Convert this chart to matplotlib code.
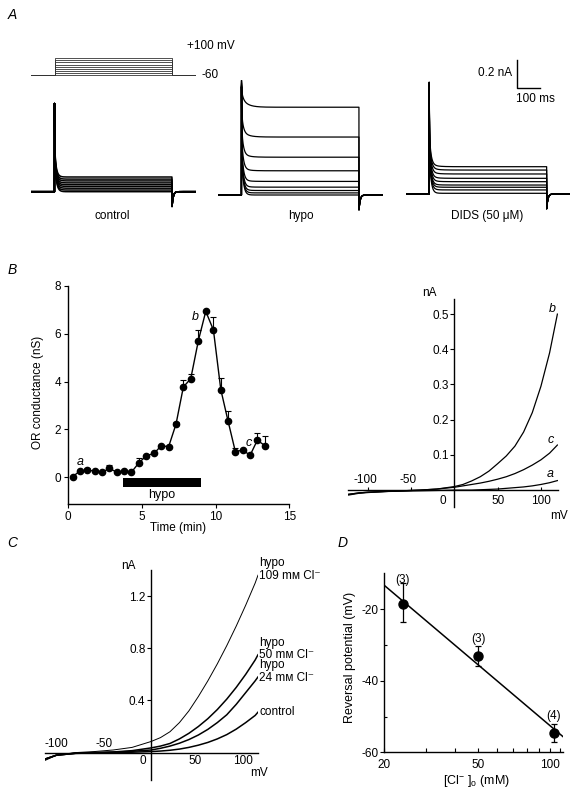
import numpy as np
import matplotlib
matplotlib.use('Agg')
import matplotlib.pyplot as plt
from matplotlib.ticker import FixedLocator, NullFormatter

plt.rcParams['font.family'] = ['Liberation Sans', 'DejaVu Sans']
plt.rcParams['font.size'] = 8.5
plt.rcParams['mathtext.fontset'] = 'custom'
plt.rcParams['mathtext.rm'] = 'Liberation Sans'
plt.rcParams['mathtext.default'] = 'regular'
plt.rcParams['axes.linewidth'] = 1.0

# ---------------- data ----------------
# Panel A: voltage protocol and steady current levels
step_mV = [-60, -40, -20, 0, 20, 40, 60, 80, 100]
control_levels_nA = [0.0, 0.012, 0.025, 0.038, 0.05, 0.063, 0.077, 0.09, 0.105]
hypo_levels_nA = [0.0, 0.015, 0.032, 0.056, 0.097, 0.173, 0.27, 0.414, 0.627]
dids_levels_nA = [0.005, 0.029, 0.048, 0.064, 0.088, 0.112, 0.143, 0.171, 0.195]
peak_nA = {'control': 0.63, 'hypo': 0.77, 'DIDS': 0.78}
tail_nA = -0.105
trace_names = ['control', 'hypo', 'DIDS (50 \u03bcM)']

# Panel B left: conductance time course
time_min = [0.30, 0.79, 1.29, 1.79, 2.31, 2.78, 3.31, 3.78, 4.28, 4.80, 5.30, 5.82, 6.31,
            6.81, 7.31, 7.81, 8.31, 8.83, 9.33, 9.85, 10.35, 10.84, 11.34, 11.84, 12.34,
            12.83, 13.35]
cond_nS = [0.03, 0.26, 0.30, 0.26, 0.21, 0.37, 0.21, 0.26, 0.21, 0.61, 0.90, 1.00, 1.32,
           1.28, 2.22, 3.78, 4.12, 5.72, 6.94, 6.16, 3.67, 2.36, 1.07, 1.14, 0.92,
           1.55, 1.32]
cond_sem = [0, 0.05, 0.08, 0, 0.05, 0.15, 0, 0.05, 0, 0.2, 0, 0, 0,
            0, 0.1, 0.3, 0.2, 0.45, 0, 0.55, 0.5, 0.4, 0.15, 0, 0,
            0.3, 0.4]
hypo_period_min = [3.73, 8.99]
point_labels = [('a', 0.79, 0.65), ('b', 8.6, 6.72), ('c', 12.27, 1.45)]

# Panel B right: I-V curves a, b, c
iv_mV = [-122, -110, -100, -80, -60, -40, -20, 0, 10, 20, 30, 40, 50, 60, 70, 80, 90, 100, 110, 119]
iv_a = [-0.014, -0.009, -0.007, -0.004, -0.003, -0.002, -0.001, 0.0, 0.0, 0.0, 0.001, 0.002,
        0.003, 0.005, 0.007, 0.009, 0.012, 0.016, 0.021, 0.027]
iv_b = [-0.012, -0.008, -0.006, -0.004, -0.002, 0.0, 0.003, 0.01, 0.016, 0.026, 0.038, 0.054,
        0.075, 0.097, 0.125, 0.165, 0.22, 0.295, 0.39, 0.50]
iv_c = [-0.012, -0.008, -0.006, -0.004, -0.002, 0.0, 0.003, 0.008, 0.012, 0.016, 0.02, 0.025,
        0.031, 0.038, 0.047, 0.058, 0.071, 0.086, 0.105, 0.128]

# Panel C: I-V curves at different [Cl-]o
ivc_mV = [-112, -100, -80, -60, -40, -20, 0, 10, 20, 30, 40, 50, 60, 70, 80, 90, 100, 110, 113]
ivc_109 = [-0.06, -0.02, 0.0, 0.008, 0.02, 0.04, 0.085, 0.115, 0.16, 0.23, 0.32, 0.43, 0.55,
           0.68, 0.82, 0.97, 1.13, 1.30, 1.36]
ivc_50 = [-0.05, -0.02, -0.005, 0.0, 0.005, 0.015, 0.036, 0.05, 0.07, 0.105, 0.148, 0.20, 0.26,
          0.33, 0.41, 0.50, 0.60, 0.71, 0.75]
ivc_24 = [-0.05, -0.02, -0.005, 0.0, 0.003, 0.01, 0.02, 0.033, 0.05, 0.072, 0.10, 0.135, 0.178,
          0.23, 0.29, 0.37, 0.46, 0.55, 0.58]
ivc_ctrl = [-0.05, -0.02, -0.006, -0.002, 0.0, 0.003, 0.008, 0.012, 0.018, 0.027, 0.04, 0.057,
            0.078, 0.105, 0.138, 0.18, 0.23, 0.285, 0.31]
ivc_labels = ['hypo\n109 m\u1d0d Cl\u207b', 'hypo\n50 m\u1d0d Cl\u207b', 'hypo\n24 m\u1d0d Cl\u207b', 'control']

# Panel D: reversal potential vs [Cl-]o
cl_mM = [24, 50, 104]
erev_mV = [-18.6, -33.0, -54.7]
erev_err_lo = [4.9, 2.9, 2.5]
erev_err_hi = [5.8, 2.7, 2.5]
n_cells = ['(3)', '(3)', '(4)']
fit_cl = [20, 114]
fit_erev = [-13.3, -55.7]

# ---------------- figure ----------------
W, H = 575, 794
fig = plt.figure(figsize=(W / 100, H / 100), dpi=100)


def add_ax(x0, y0, x1, y1):
    return fig.add_axes([x0 / W, 1 - y1 / H, (x1 - x0) / W, (y1 - y0) / H])


def ftext(x, y, s, **kw):
    kw.setdefault('ha', 'center')
    kw.setdefault('va', 'center')
    return fig.text(x / W, 1 - y / H, s, **kw)


# panel letters
for lab, x, y in [('A', 12, 15), ('B', 12, 270), ('C', 12, 543), ('D', 343, 543)]:
    ftext(x, y, lab, fontsize=10, style='italic')

# ---------------- Panel A ----------------
PX_MS = 0.235
PX_NA = 140.0
t = np.linspace(-100, 600, 2801)


def current(level, peak, sag):
    y = np.zeros_like(t)
    on = (t >= 0) & (t < 500)
    off = t >= 500
    tt = t[on]
    y[on] = (level + (peak - level) * (0.6 * np.exp(-tt / 1.0) + 0.4 * np.exp(-tt / 7.0))
             + sag * level * np.exp(-tt / 25.0))
    y[off] = tail_nA * np.exp(-(t[off] - 500) / 5.0)
    return y


def trace_ax(left_px, base_px):
    ylo, yhi = -0.14, 0.82
    ax = add_ax(left_px, base_px - yhi * PX_NA, left_px + 700 * PX_MS, base_px - ylo * PX_NA)
    ax.set_xlim(-100, 600)
    ax.set_ylim(ylo, yhi)
    ax.axis('off')
    return ax


# protocol
axp = add_ax(31, 74 - 100 * 0.15 - 3, 31 + 700 * PX_MS, 74 + 4)
axp.set_xlim(-100, 600)
axp.set_ylim(-60 - 4 / 0.15, 100 + 3 / 0.15)
axp.axis('off')
for v in step_mV:
    axp.plot([-100, 0, 0, 500, 500, 600], [-60, -60, v, v, -60, -60], color='#333333', lw=0.6)
ftext(187, 46, '+100 mV', ha='left', fontsize=8.5)
ftext(201, 75, '-60', ha='left', fontsize=8.5)

ax_c = trace_ax(31, 191.7)
for lev in control_levels_nA:
    ax_c.plot(t, current(lev, peak_nA['control'], 0.0), color='k', lw=1.1)
ax_h = trace_ax(218, 195)
for lev in hypo_levels_nA:
    ax_h.plot(t, current(lev, peak_nA['hypo'], 0.1), color='k', lw=0.9)
ax_d = trace_ax(405.7, 194)
for lev in dids_levels_nA:
    ax_d.plot(t, current(lev, peak_nA['DIDS'], 0.1), color='k', lw=0.9)

for xc, name in zip([112, 300.5, 487], trace_names):
    ftext(xc, 216, name, fontsize=8.5)

# scale bar (100 ms, 0.2 nA)
sb_t, sb_i = 372, 0.755
ax_d.plot([sb_t, sb_t, sb_t + 100], [sb_i + 0.2, sb_i, sb_i], color='k', lw=1.0, clip_on=False)
ax_d.text(sb_t - 20, sb_i + 0.11, '0.2 nA', ha='right', va='center', fontsize=8.5)
ax_d.text(sb_t + 80, sb_i - 0.08, '100 ms', ha='center', va='center', fontsize=8.5)

# ---------------- Panel B left ----------------
axb = add_ax(68.3, 286, 289.3, 504.3)
axb.set_xlim(0, 15)
axb.set_ylim(-1.13, 8)
for s in ['top', 'right']:
    axb.spines[s].set_visible(False)
axb.errorbar(time_min, cond_nS, yerr=[np.zeros(len(cond_sem)), cond_sem], fmt='o-', color='k',
             ms=4.5, lw=1.0, elinewidth=0.8, capsize=2.5, capthick=0.8)
axb.fill_between(hypo_period_min, -0.42, -0.04, color='k', lw=0)
axb.text(np.mean(hypo_period_min), -0.74, 'hypo', ha='center', va='center', fontsize=9)
for lab, x, y in point_labels:
    axb.text(x, y, lab, style='italic', ha='center', va='center', fontsize=9)
axb.set_xticks([0, 5, 10, 15])
axb.set_yticks([0, 2, 4, 6, 8])
axb.tick_params(direction='out', length=3, width=0.8, labelsize=8.5, pad=2)
ftext(178, 528, 'Time (min)', fontsize=8.5)
ftext(38, 392, 'OR conductance (nS)', rotation=90, fontsize=8.5)

# ---------------- Panel B right ----------------
axr = add_ax(348, 299.3, 558, 507)
axr.set_xlim(-122.7, 119.7)
axr.set_ylim(-0.048, 0.542)
for s in ['top', 'right']:
    axr.spines[s].set_visible(False)
axr.spines['left'].set_position(('data', 0))
axr.spines['bottom'].set_position(('data', 0))
axr.plot(iv_mV, iv_b, color='k', lw=0.9)
axr.plot(iv_mV, iv_c, color='k', lw=0.9)
axr.plot(iv_mV, iv_a, color='k', lw=0.9)
axr.set_yticks([0.1, 0.2, 0.3, 0.4, 0.5])
axr.set_yticklabels(['0.1', '0.2', '0.3', '0.4', '0.5'])
axr.set_xticks([-100, -50, 50, 100])
axr.set_xticklabels(['', '', '', ''])
axr.tick_params(axis='y', direction='out', length=3, width=0.8, labelsize=8.5, pad=1)
axr.tick_params(axis='x', direction='in', length=2, width=0.8)
for v in [-100, -50]:
    axr.annotate(str(v), (v, 0), xytext=(-2, 7), textcoords='offset points', ha='center',
                 va='center', fontsize=8.5)
for v in [0, 50, 100]:
    axr.annotate(str(v), (v, 0), xytext=(-8 if v == 0 else 0, -7.5), textcoords='offset points',
                 ha='center', va='center', fontsize=8.5)
for lab, x, y in [('b', 113, 0.515), ('c', 111, 0.143), ('a', 111, 0.045)]:
    axr.text(x, y, lab, style='italic', ha='center', va='center', fontsize=9)
ftext(429, 293, 'nA', fontsize=8.5)
ftext(559, 516, 'mV', fontsize=8.5)

# ---------------- Panel C ----------------
axC = add_ax(45, 570, 258, 780)
axC.set_xlim(-112, 113)
axC.set_ylim(-0.21, 1.40)
for s in ['top', 'right']:
    axC.spines[s].set_visible(False)
axC.spines['left'].set_position(('data', 0))
axC.spines['bottom'].set_position(('data', 0))
for ys, lw in zip([ivc_109, ivc_50, ivc_24, ivc_ctrl], [0.7, 1.1, 1.1, 1.1]):
    axC.plot(ivc_mV, ys, color='k', lw=lw)
axC.set_yticks([0.4, 0.8, 1.2])
axC.set_yticklabels(['0.4', '0.8', '1.2'])
axC.set_xticks([-100, -50, 50, 100])
axC.set_xticklabels(['', '', '', ''])
axC.tick_params(axis='y', direction='out', length=3, width=0.8, labelsize=8.5, pad=1)
axC.tick_params(axis='x', direction='in', length=0)
for v in [-100, -50]:
    axC.annotate(str(v), (v, 0), xytext=(0, 6.5), textcoords='offset points', ha='center',
                 va='center', fontsize=8.5)
for v in [0, 50, 100]:
    axC.annotate(str(v), (v, 0), xytext=(-6 if v == 0 else -2, -6), textcoords='offset points',
                 ha='center', va='center', fontsize=8.5)
ftext(128, 566, 'nA', fontsize=8.5)
ftext(259, 773, 'mV', fontsize=8.5)
for lab, ys in zip(ivc_labels, [ivc_109, ivc_50, ivc_24, ivc_ctrl]):
    n_lines = lab.count('\n')
    axC.annotate(lab, (ivc_mV[-1], ys[-1]), xytext=(1, 4 if n_lines else 0), textcoords='offset points',
                 ha='left', va='center', fontsize=8.5, linespacing=1.05, annotation_clip=False)

# ---------------- Panel D ----------------
axD = add_ax(384, 573.3, 563.3, 752.3)
axD.set_xscale('log')
axD.set_xlim(20, 114)
axD.set_ylim(-60, -10)
for s in ['top', 'right']:
    axD.spines[s].set_visible(False)
axD.plot(fit_cl, fit_erev, color='k', lw=1.1)
axD.errorbar(cl_mM, erev_mV, yerr=[erev_err_lo, erev_err_hi], fmt='o', color='k', ms=6.5,
             elinewidth=0.9, capsize=2.5, capthick=0.9)
for x, y, lab, off in zip(cl_mM, erev_mV, n_cells, [17, 12, 12.5]):
    axD.annotate(lab, (x, y), xytext=(0, off), textcoords='offset points', ha='center',
                 va='center', fontsize=8.5)
axD.xaxis.set_major_locator(FixedLocator([20, 50, 100]))
axD.xaxis.set_minor_locator(FixedLocator([30, 40, 60, 70, 80, 90, 110]))
axD.xaxis.set_minor_formatter(NullFormatter())
axD.set_xticklabels(['20', '50', '100'])
axD.set_yticks([-60, -40, -20])
axD.set_yticklabels(['-60', '-40', '-20'])
axD.yaxis.set_minor_locator(FixedLocator([-50, -30]))
axD.tick_params(axis='x', which='both', direction='in', length=3, width=0.8, labelsize=8.5, pad=5)
axD.tick_params(axis='y', which='major', direction='out', length=3, width=0.8, labelsize=8.5, pad=1)
axD.tick_params(axis='y', which='minor', direction='in', length=2, width=0.8)
ftext(350, 657, 'Reversal potential (mV)', rotation=90, fontsize=9)
ftext(477, 781, r'[Cl$^{-}$ ]$_{\mathrm{o}}$ (mM)', fontsize=9)

fig.savefig('out.png', dpi=100)
